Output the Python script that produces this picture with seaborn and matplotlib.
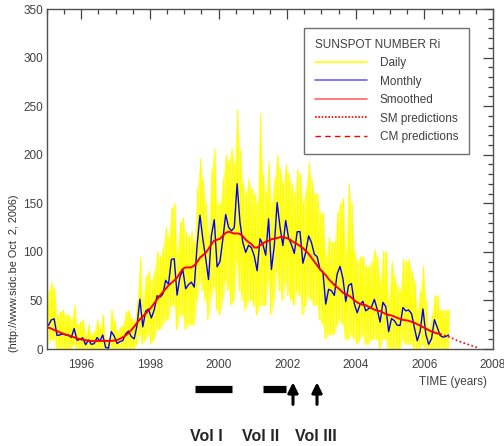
import numpy as np
import pandas as pd
import matplotlib
matplotlib.use("Agg")
import matplotlib.pyplot as plt
import seaborn as sns
from matplotlib.lines import Line2D
from matplotlib.ticker import MultipleLocator
from matplotlib.transforms import blended_transform_factory

# monthly mean sunspot number, Jan 1995 .. Sep 2006
monthly = [
    24.2, 29.9, 31.1, 14.0, 14.5, 15.6, 14.5, 14.3, 11.8, 21.1, 9.0, 10.0,
    11.5, 4.4, 9.2, 4.8, 5.5, 11.8, 8.2, 14.4, 1.6, 0.9, 17.9, 13.3,
    5.7, 7.6, 8.7, 15.5, 18.5, 12.7, 10.4, 24.4, 51.3, 22.8, 39.0, 41.2,
    31.9, 40.3, 54.8, 53.4, 56.3, 70.7, 66.6, 92.2, 92.9, 55.5, 74.0, 81.9,
    62.0, 66.3, 68.8, 63.7, 106.4, 137.7, 113.5, 93.7, 71.5, 116.7, 133.2, 84.6,
    90.1, 112.9, 138.5, 125.5, 121.6, 124.9, 170.1, 130.5, 109.7, 99.4, 106.8, 104.4,
    95.6, 80.6, 113.5, 107.7, 96.6, 134.0, 81.8, 106.4, 150.7, 125.5, 106.5, 132.2,
    114.1, 107.4, 98.4, 120.7, 120.8, 88.3, 99.6, 116.4, 109.6, 97.5, 95.0, 81.6,
    79.5, 46.2, 61.5, 60.0, 55.2, 77.4, 85.0, 72.7, 48.8, 65.5, 67.3, 46.5,
    37.3, 45.8, 49.1, 39.3, 41.5, 43.2, 51.1, 40.9, 27.7, 48.0, 43.5, 17.9,
    31.3, 29.2, 24.5, 24.2, 42.7, 39.3, 40.1, 36.4, 22.1, 8.5, 18.0, 41.2,
    15.3, 4.9, 10.6, 30.2, 22.3, 13.9, 12.2, 12.9, 14.4,
]

# highest / lowest daily value seen in each month
daily_hi = [
    60, 68, 62, 35, 38, 40, 35, 35, 30, 45, 25, 28,
    30, 15, 25, 15, 18, 30, 22, 35, 10, 8, 40, 30,
    18, 22, 25, 38, 40, 32, 28, 50, 94, 50, 75, 80,
    70, 80, 100, 95, 105, 125, 115, 145, 150, 100, 130, 135,
    120, 115, 120, 110, 165, 196, 175, 150, 120, 185, 206, 150,
    150, 175, 200, 193, 206, 190, 246, 205, 170, 160, 175, 165,
    160, 150, 242, 180, 160, 192, 150, 175, 200, 185, 170, 190,
    180, 170, 160, 185, 180, 150, 165, 192, 175, 160, 160, 140,
    140, 95, 115, 110, 110, 140, 150, 155, 100, 170, 150, 100,
    90, 95, 95, 85, 85, 90, 102, 95, 70, 100, 100, 50,
    90, 75, 65, 60, 92, 90, 92, 80, 70, 40, 60, 85,
    50, 20, 35, 55, 55, 40, 40, 40, 40,
]
daily_lo = [
    5, 10, 10, 0, 0, 0, 0, 0, 0, 5, 0, 0,
    0, 0, 0, 0, 0, 0, 0, 0, 0, 0, 0, 0,
    0, 0, 0, 0, 0, 0, 0, 5, 15, 5, 10, 15,
    5, 10, 20, 20, 25, 30, 30, 45, 45, 20, 35, 35,
    20, 25, 25, 25, 50, 70, 60, 50, 30, 55, 65, 40,
    35, 50, 70, 60, 45, 50, 90, 60, 50, 40, 50, 50,
    45, 35, 45, 45, 45, 70, 35, 50, 80, 60, 50, 70,
    55, 50, 45, 60, 55, 35, 45, 55, 50, 45, 45, 30,
    25, 10, 15, 15, 15, 25, 30, 25, 10, 10, 15, 10,
    5, 10, 15, 5, 5, 10, 10, 10, 0, 10, 10, 0,
    0, 0, 0, 0, 10, 5, 5, 5, 0, 0, 0, 5,
    0, 0, 0, 0, 0, 0, 0, 0, 0,
]

# 13-month smoothed number, Jan 1995 .. Jun 2006
smoothed = [
    22, 21, 19.5, 18.5, 17, 16, 15, 14, 13, 12, 11, 10,
    9.5, 9, 8.6, 8.2, 8.0, 8.2, 8.4, 8.3, 8.3, 8.3, 8.4, 8.6,
    9.2, 10.5, 12, 14, 16.5, 19.5, 23, 27, 30.5, 33.5, 36.5, 39.5,
    43, 47, 51, 55, 58.5, 62, 65.5, 68, 70.5, 73.5, 78, 82.5,
    84, 84, 84, 86, 89.5, 94, 96.5, 99, 103, 108, 111.5, 112.5,
    113.5, 116.5, 119.5, 120.8, 119.8, 118.8, 119, 118.5, 116, 112.5, 110, 108,
    104.5, 104.4, 106.6, 108.7, 110.5, 111.4, 113, 113.6, 114.2, 115, 115.5, 114.4,
    113.5, 111.5, 109.5, 108, 106, 104, 101, 98, 94, 90, 86, 82,
    79, 76, 72, 69, 66, 63.5, 61, 58, 56.5, 55, 53, 50,
    48, 46.5, 45.5, 45, 43.5, 42, 40.5, 39.5, 39, 37.5, 36, 35,
    34.5, 33.5, 32, 31, 30, 29.6, 29, 28, 27, 25.5, 24, 22.5,
    21, 19.5, 18, 17, 16, 15.5,
]

# SM predictions (dotted red)
pred_years = [2006.46, 2006.75, 2007.0, 2007.25, 2007.54]
pred_values = [15.5, 12, 8, 5, 1.5]

# publication volumes shown under the time axis
vol_bars = [(1999.31, 2000.39), (2001.30, 2001.97)]
vol_arrows = [2002.17, 2002.87]
vol_labels = ["Vol I", "Vol II", "Vol III"]
vol_label_x = [1999.64, 2001.24, 2002.84]

start = 1995.0
month_x = start + (np.arange(len(monthly)) + 0.5) / 12
smooth_x = start + (np.arange(len(smoothed)) + 0.5) / 12
df_month = pd.DataFrame({"year": month_x, "ri": monthly})
df_smooth = pd.DataFrame({"year": smooth_x, "ri": smoothed})

# yellow daily band drawn as a zigzag low -> high inside each month
m0 = start + np.arange(len(daily_hi)) / 12
zz_x = np.column_stack([m0 + 0.25 / 12, m0 + 0.75 / 12]).ravel()
zz_y = np.column_stack([daily_lo, daily_hi]).ravel()

sns.set_style("white")
plt.rcParams["font.family"] = ["Liberation Sans", "DejaVu Sans"]

fig = plt.figure(figsize=(5.04, 4.46), dpi=100)
ax = fig.add_axes([47 / 504, 1 - 349 / 446, 446 / 504, 340 / 446])

ax.fill_between(m0 + 0.5 / 12, daily_lo, daily_hi, color="#ffff00", alpha=0.6, lw=0)
sns.lineplot(x=zz_x, y=zz_y, sort=False, estimator=None, color="#ffff00",
             lw=0.8, ax=ax, legend=False)
sns.lineplot(data=df_month, x="year", y="ri", estimator=None, color="#0000ff",
             lw=1.0, ax=ax, legend=False)
sns.lineplot(data=df_smooth, x="year", y="ri", estimator=None, color="#ff0000",
             lw=1.4, ax=ax, legend=False)
ax.plot(pred_years, pred_values, color="#ff0000", lw=1.2, ls=(0, (1, 1.5)))

ax.set_xlim(1995, 2008)
ax.set_ylim(0, 350)
ax.xaxis.set_major_locator(MultipleLocator(2))
ax.xaxis.set_minor_locator(MultipleLocator(0.5))
ax.yaxis.set_major_locator(MultipleLocator(50))
ax.yaxis.set_minor_locator(MultipleLocator(10))
ax.tick_params(which="both", direction="in", top=True, right=True,
               colors="#404040", labelsize=8.5, width=0.9)
ax.tick_params(which="major", length=7.5)
ax.tick_params(which="minor", length=3.8)
ax.tick_params(axis="x", pad=7)
ax.tick_params(axis="y", pad=3)
ax.set_xlabel("")
ax.set_ylabel("")
for sp in ax.spines.values():
    sp.set_color("#505050")
    sp.set_linewidth(1.0)

handles = [
    Line2D([], [], color="#ffff00", lw=1.2),
    Line2D([], [], color="#0000ff", lw=1.2, alpha=0.6),
    Line2D([], [], color="#ff0000", lw=1.2, alpha=0.6),
    Line2D([], [], color="#ff0000", lw=1.2, ls=(0, (1, 1))),
    Line2D([], [], color="#ff0000", lw=1.0, ls=(0, (4, 3))),
]
names = ["Daily", "Monthly", "Smoothed", "SM predictions", "CM predictions"]
leg = ax.legend(handles, names, title="SUNSPOT NUMBER Ri", loc="upper left",
                bbox_to_anchor=(304 / 504, 1 - 28 / 446), bbox_transform=fig.transFigure,
                fontsize=8.5, title_fontsize=8.5, alignment="left", fancybox=False,
                framealpha=1, edgecolor="#707070", handlelength=4.4,
                handletextpad=1.1, labelspacing=0.55, borderpad=0.9, borderaxespad=0)
leg.get_frame().set_linewidth(1.0)
for t in leg.get_texts():
    t.set_color("#404040")
leg.get_title().set_color("#404040")

fig.text(487 / 504, 1 - 382 / 446, "TIME (years)", ha="right", va="center",
         fontsize=8.5, color="#404040")
fig.text(14 / 504, 1 - 273 / 446, "(http://www.sidc.be Oct  2, 2006)", rotation=90,
         ha="center", va="center", fontsize=7.8, color="#303030")

trans = blended_transform_factory(ax.transData, ax.transAxes)
for x0, x1 in vol_bars:
    ax.plot([x0, x1], [-0.119, -0.119], color="black", lw=5.2,
            solid_capstyle="butt", transform=trans, clip_on=False)
for xa in vol_arrows:
    ax.annotate("", xy=(xa, -0.098), xytext=(xa, -0.163), xycoords=trans,
                textcoords=trans, annotation_clip=False,
                arrowprops=dict(arrowstyle="-|>,head_length=0.6,head_width=0.3",
                                color="black", lw=2.2, shrinkA=0, shrinkB=0))
for lab, xl in zip(vol_labels, vol_label_x):
    ax.text(xl, -0.256, lab, transform=trans, ha="center", va="center",
            fontsize=11.5, fontweight="bold",
            family=["Liberation Sans Narrow", "Liberation Sans", "DejaVu Sans"])

fig.savefig("out.png", dpi=100)
